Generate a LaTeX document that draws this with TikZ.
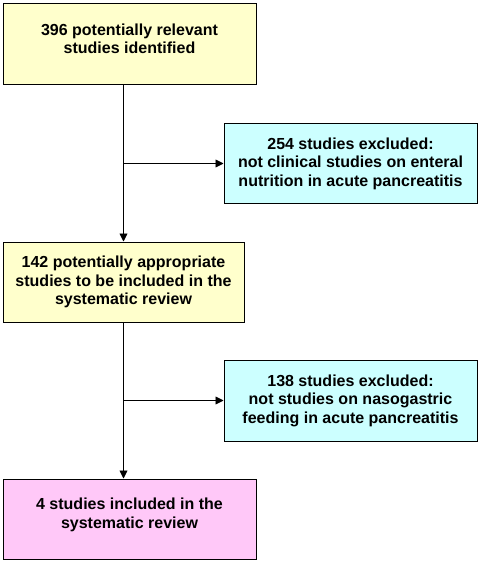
\documentclass[tikz,border=0pt]{standalone}
\usepackage{fontspec}
\setmainfont{Liberation Sans}
\usetikzlibrary{
    arrows.meta,
    positioning
}
\definecolor{boxyellow}{HTML}{FFFFCC}
\definecolor{boxcyan}{HTML}{CCFFFF}
\definecolor{boxpink}{HTML}{FFC8F8}
\newcommand{\lowpad}[1]{\rule[-#1]{0pt}{#1}}
\tikzset{
    stage/.style={
        draw=black,
        line width=1pt,
        align=center,
        inner sep=0pt,
        font=\fontsize{16}{18.5}\selectfont\bfseries
    },
    kept/.style={
        stage,
        fill=boxyellow,
        minimum width=253pt,
        minimum height=81pt
    },
    dropped/.style={
        stage,
        fill=boxcyan,
        minimum width=253pt,
        minimum height=80pt
    },
    final/.style={
        stage,
        fill=boxpink,
        minimum width=253pt,
        minimum height=80pt
    },
    flow/.style={
        -{Triangle[length=8pt, width=8pt]},
        line width=0.9pt,
        draw=black
    }
}

\begin{document}
\begin{tikzpicture}[x=1pt, y=1pt]

    \useasboundingbox (0,0) rectangle (479,-564);

    % -------------------------------------------------------------------------
    % Main path of the selection.
    % -------------------------------------------------------------------------
    \node[kept] (identified) at (129.5,-44.5)
        {396 potentially relevant\\studies identified\lowpad{12pt}};

    \node[kept, minimum width=241pt, minimum height=80pt] (appropriate)
        at (123.5,-282)
        {142 potentially appropriate\\studies to be included in the\\systematic review};

    \node[final] (included) at (129.5,-519)
        {4 studies included in the\\systematic review\lowpad{12pt}};

    % -------------------------------------------------------------------------
    % Exclusions.
    % -------------------------------------------------------------------------
    \node[dropped, minimum height=79pt] (excludedone) at (350.5,-163.5)
        {254 studies excluded:\\not clinical studies on enteral\\nutrition in acute pancreatitis};

    \node[dropped, minimum height=81pt] (excludedtwo) at (350.5,-400.5)
        {138 studies excluded:\\not studies on nasogastric\\feeding in acute pancreatitis};

    \draw[flow] (identified.south -| appropriate.north) -- (appropriate.north);
    \draw[flow] (appropriate.north |- excludedone.west) -- (excludedone.west);
    \draw[flow] (appropriate.south) -- (appropriate.south |- included.north);
    \draw[flow] (appropriate.south |- excludedtwo.west) -- (excludedtwo.west);

\end{tikzpicture}
\end{document}
